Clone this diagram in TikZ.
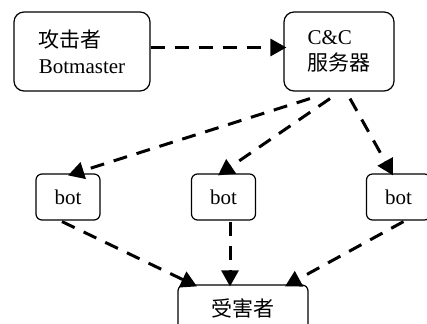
\documentclass[tikz,border=0pt]{standalone}
\usepackage{fontspec}
\setmainfont{Liberation Serif}
\newfontfamily\cjk{Noto Sans CJK SC}
\usepackage{tikz}
\usetikzlibrary{calc, positioning, arrows.meta}

\begin{document}
\begin{tikzpicture}[x=0.5pt,y=-0.5pt,
                    big node/.style={draw,line width=0.6pt,rounded corners=5pt,align=left,
                      minimum height=39.5pt,font=\fontsize{10.5}{13}\selectfont},
                    bot node/.style={draw,line width=0.6pt,rounded corners=3pt,
                      minimum width=32pt,minimum height=23pt,font=\fontsize{10.5}{13}\selectfont},
                    flow/.style={line width=1.5pt,dash pattern=on 7pt off 5pt,
                      -{Triangle[length=8pt,width=8.5pt]}}]

  \useasboundingbox (0,0) rectangle (427,324);

  \node[big node,minimum width=68pt] (A) at (82,51.5) {{\cjk 攻击者}\\Botmaster};
  \node[big node,minimum width=55pt] (C) at (339,51.5) {C\&C\\{\cjk 服务器}};
  \node[bot node] (B1) at (68,197) {bot};
  \node[bot node] (B2) at (223.5,197) {bot};
  \node[bot node] (B3) at (398.5,197) {bot};
  \node[bot node,minimum width=65pt] (V) at (243,308) {\cjk 受害者};

  \path[flow]
    ($(A.east)+(0,-4)$) edge ($(C.west)+(3,-4)$)
    ($(C.south)+(-29,7)$) edge ($(B1.north)+(0,2)$)
    ($(C.south)+(-9,7)$) edge ($(B2.north)+(-5.5,2)$)
    ($(C.south)+(11,7)$) edge ($(B3.north)+(-5.5,2)$)
    ($(B1.south)+(-6,1)$) edge ($(V.north)+(-46,2)$)
    ($(B2.south)+(6.5,1)$) edge ($(V.north)+(-13,2)$)
    ($(B3.south)+(5,1)$) edge ($(V.north)+(42,2)$);

\end{tikzpicture}
\end{document}
